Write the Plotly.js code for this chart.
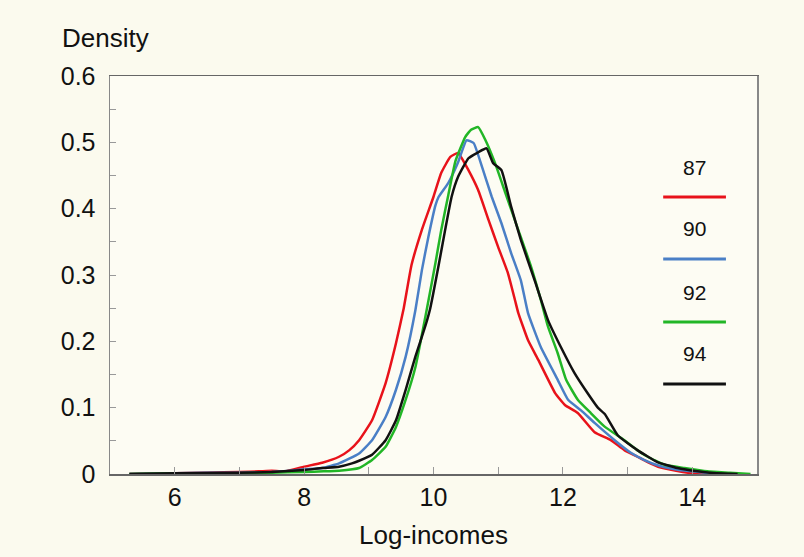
<!DOCTYPE html>
<html>
<head>
<meta charset="utf-8">
<script src="https://cdn.plot.ly/plotly-3.0.1.min.js"></script>
<style>html,body{margin:0;padding:0;background:#fbfaee;}</style>
</head>
<body>
<div id="chart" style="width:804px;height:557px;"></div>
<script>
const seriesNames = ["87", "90", "92", "94"];
const seriesColors = ["#e8121a", "#4a7fc6", "#22b626", "#111111"];

const x87 = [5.3, 6.0, 6.5, 7.0, 7.3, 7.5, 7.7, 8.0, 8.28, 8.54, 8.7, 8.85, 9.05, 9.26, 9.42, 9.54, 9.66, 9.82, 10.0, 10.12, 10.26, 10.38, 10.54, 10.69, 10.85, 11.0, 11.15, 11.26, 11.31, 11.46, 11.62, 11.88, 12.03, 12.23, 12.49, 12.74, 12.95, 13.15, 13.31, 13.5, 13.75, 14.0, 14.3];
const y87 = [0, 0.001, 0.002, 0.003, 0.004, 0.005, 0.004, 0.011, 0.017, 0.026, 0.036, 0.051, 0.081, 0.137, 0.197, 0.25, 0.315, 0.368, 0.418, 0.454, 0.478, 0.484, 0.458, 0.428, 0.383, 0.342, 0.303, 0.262, 0.243, 0.202, 0.172, 0.122, 0.104, 0.092, 0.063, 0.051, 0.036, 0.026, 0.018, 0.01, 0.005, 0.001, 0];

const x90 = [5.3, 6.0, 6.5, 7.0, 7.5, 7.8, 8.0, 8.28, 8.54, 8.85, 9.05, 9.26, 9.42, 9.57, 9.72, 9.82, 9.92, 10.03, 10.08, 10.23, 10.38, 10.51, 10.62, 10.75, 10.9, 11.05, 11.2, 11.35, 11.46, 11.66, 11.92, 12.08, 12.28, 12.49, 12.8, 13.05, 13.26, 13.5, 13.8, 14.1, 14.4];
const y90 = [0, 0.001, 0.002, 0.002, 0.003, 0.005, 0.007, 0.009, 0.016, 0.031, 0.051, 0.086, 0.127, 0.177, 0.247, 0.307, 0.357, 0.405, 0.418, 0.439, 0.47, 0.503, 0.499, 0.463, 0.418, 0.378, 0.333, 0.292, 0.243, 0.191, 0.142, 0.112, 0.096, 0.077, 0.051, 0.032, 0.021, 0.012, 0.006, 0.003, 0];

const x92 = [5.3, 6.0, 7.0, 7.5, 8.0, 8.3, 8.54, 8.85, 9.05, 9.26, 9.42, 9.57, 9.72, 9.89, 10.03, 10.12, 10.23, 10.34, 10.49, 10.58, 10.69, 10.8, 10.95, 11.11, 11.31, 11.51, 11.66, 11.77, 11.92, 12.05, 12.23, 12.43, 12.65, 12.95, 13.15, 13.31, 13.57, 13.88, 14.23, 14.58, 14.9];
const y92 = [0, 0.001, 0.001, 0.002, 0.003, 0.004, 0.005, 0.009, 0.021, 0.041, 0.071, 0.112, 0.161, 0.245, 0.318, 0.368, 0.421, 0.472, 0.508, 0.519, 0.523, 0.504, 0.469, 0.424, 0.368, 0.312, 0.262, 0.222, 0.182, 0.142, 0.112, 0.092, 0.071, 0.051, 0.036, 0.026, 0.014, 0.009, 0.004, 0.002, 0];

const x94 = [5.3, 6.0, 7.0, 7.5, 8.0, 8.28, 8.54, 8.74, 8.85, 9.05, 9.26, 9.42, 9.57, 9.72, 9.88, 9.95, 10.08, 10.18, 10.28, 10.38, 10.54, 10.69, 10.82, 10.92, 11.05, 11.2, 11.35, 11.57, 11.77, 11.97, 12.18, 12.38, 12.54, 12.65, 12.85, 13.15, 13.46, 13.77, 14.08, 14.38, 14.7];
const y94 = [0, 0.001, 0.002, 0.003, 0.006, 0.009, 0.011, 0.016, 0.02, 0.029, 0.051, 0.081, 0.127, 0.177, 0.225, 0.25, 0.315, 0.368, 0.418, 0.448, 0.476, 0.485, 0.491, 0.469, 0.458, 0.403, 0.353, 0.29, 0.232, 0.191, 0.152, 0.122, 0.1, 0.09, 0.058, 0.036, 0.018, 0.009, 0.004, 0.001, 0];

const xTickVals = [6, 8, 10, 12, 14];
const yTickVals = [0, 0.1, 0.2, 0.3, 0.4, 0.5, 0.6];
const yTickText = ["0", "0.1", "0.2", "0.3", "0.4", "0.5", "0.6"];

const xs = [x87, x90, x92, x94];
const ys = [y87, y90, y92, y94];

const traces = seriesNames.map((n, i) => ({
  type: "scatter", mode: "lines", name: n,
  x: xs[i], y: ys[i],
  line: {color: seriesColors[i], width: 2.5, shape: "spline", smoothing: 0.4},
  showlegend: false, hoverinfo: "skip"
}));

const font = {family: "Liberation Sans, Arial, sans-serif", color: "#111"};

const legendTextY = [0.769, 0.616, 0.457, 0.302];
const legendLineY = [0.696, 0.540, 0.382, 0.226];

const annotations = seriesNames.map((n, i) => ({
  xref: "paper", yref: "paper", x: 0.904, y: legendTextY[i],
  text: n, showarrow: false, xanchor: "center", yanchor: "middle",
  font: Object.assign({}, font, {size: 21})
}));
annotations.push({
  xref: "paper", yref: "paper", x: -0.077, y: 1.095, xanchor: "left", yanchor: "middle",
  text: "Density", showarrow: false, font: Object.assign({}, font, {size: 26})
});

const shapes = seriesNames.map((n, i) => ({
  type: "line", xref: "paper", yref: "paper",
  x0: 0.855, x1: 0.952, y0: legendLineY[i], y1: legendLineY[i],
  line: {color: seriesColors[i], width: 3}
}));

const layout = {
  width: 804, height: 557,
  margin: {l: 110, r: 47, t: 76, b: 83},
  paper_bgcolor: "#fbfaee", plot_bgcolor: "#fdfcf3",
  font: font,
  xaxis: {
    range: [5, 15], tickvals: xTickVals, ticks: "inside", ticklen: 7, tickcolor: "#999",
    minor: {dtick: 1, tick0: 5, ticks: "inside", ticklen: 7, tickcolor: "#999"},
    showgrid: false, zeroline: false, showline: true, linecolor: "#666", linewidth: 1.5, mirror: true,
    tickfont: Object.assign({}, font, {size: 25}),
    title: {text: "Log-incomes", font: Object.assign({}, font, {size: 26}), standoff: 16}
  },
  yaxis: {
    range: [0, 0.6], tickvals: yTickVals, ticktext: yTickText, ticks: "inside", ticklen: 6, tickcolor: "#999",
    minor: {dtick: 0.05, ticks: "inside", ticklen: 6, tickcolor: "#999"},
    showgrid: false, zeroline: false, showline: true, linecolor: "#888", linewidth: 1.5, mirror: true,
    tickfont: Object.assign({}, font, {size: 25}), ticklabelstandoff: 8
  },
  annotations: annotations,
  shapes: shapes
};

Plotly.newPlot("chart", traces, layout, {displayModeBar: false, staticPlot: true});
</script>
</body>
</html>
